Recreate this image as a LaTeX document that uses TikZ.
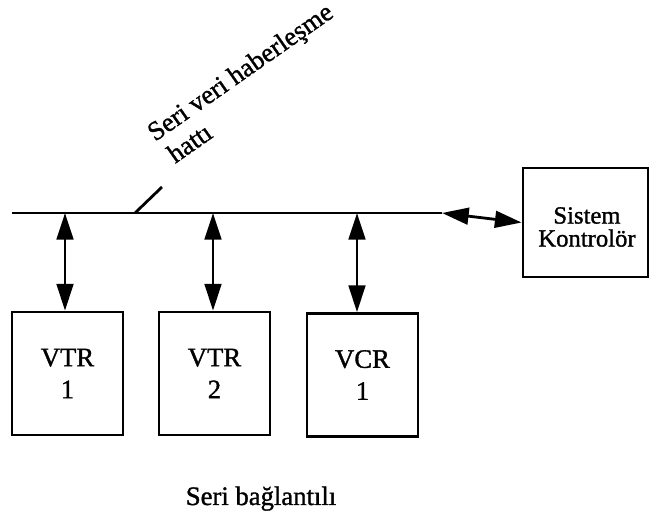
\documentclass[tikz,border=0pt]{standalone}
\usepackage{fontspec}
\setmainfont[FakeBold=1.2]{Liberation Serif}
\usetikzlibrary{arrows.meta}
\begin{document}
\begin{tikzpicture}[x=0.75pt,y=-0.75pt,
  wire/.style={line width=2.1pt},
  tip/.style={Triangle[length=20pt,width=12.5pt]},
  link/.style={wire, {Triangle[length=20pt,width=12.5pt]}-{Triangle[length=20pt,width=12.5pt]}},
  devbox/.style={draw, line width=2.1pt, minimum width=83.25pt, minimum height=92.25pt,
    align=center, inner sep=0pt, font=\fontsize{20}{24}\selectfont},
  ctrlbox/.style={draw, line width=2.1pt, minimum width=93.75pt, minimum height=81.75pt, inner sep=0pt},
  ctrltext/.style={align=center, inner sep=0pt, font=\fontsize{18.5}{17.25}\selectfont},
  lbl/.style={inner sep=0pt, font=\fontsize{20}{22}\selectfont}]
\useasboundingbox (0,0) rectangle (651,516);

% serial bus
\coordinate (busL) at (12,213);
\coordinate (busR) at (442,213);
\draw[wire] (busL) -- (busR);

% devices on the bus
\node[devbox] (v1) at (67.5,373.5) {VTR\\1};
\node[devbox] (v2) at (214.5,373.5) {VTR\\2};
\node[devbox] (v3) at (362.5,375) {VCR\\1};

% system controller
\node[ctrlbox] (sk) at (585.5,222.5) {};
\node[ctrltext] (sktext) at (587,227) {Sistem\\Kontrolör};

% taps on the bus
\coordinate (t1) at (65,213);
\coordinate (t2) at (213,213);
\coordinate (t3) at (357,213);
\draw[link] (t1) -- (t1 |- v1.north);
\draw[link] (t2) -- (t2 |- v2.north);
\draw[link] (t3) -- (t3 |- v3.north);
\draw[link] (busR) -- (sk.west);

% pointer to the bus and its label
\coordinate (tk1) at (135,213);
\coordinate (tk2) at (162,187);
\draw[wire] (tk1) -- (tk2);
\node[lbl, rotate=35, anchor=base west] (cap1) at (155,142) {Seri veri haberleşme};
\node[lbl, rotate=35, anchor=base west] (cap2) at (175,164) {hattı};

% caption
\node[lbl, anchor=base] (title) at (261,505) {Seri bağlantılı};
\end{tikzpicture}
\end{document}
